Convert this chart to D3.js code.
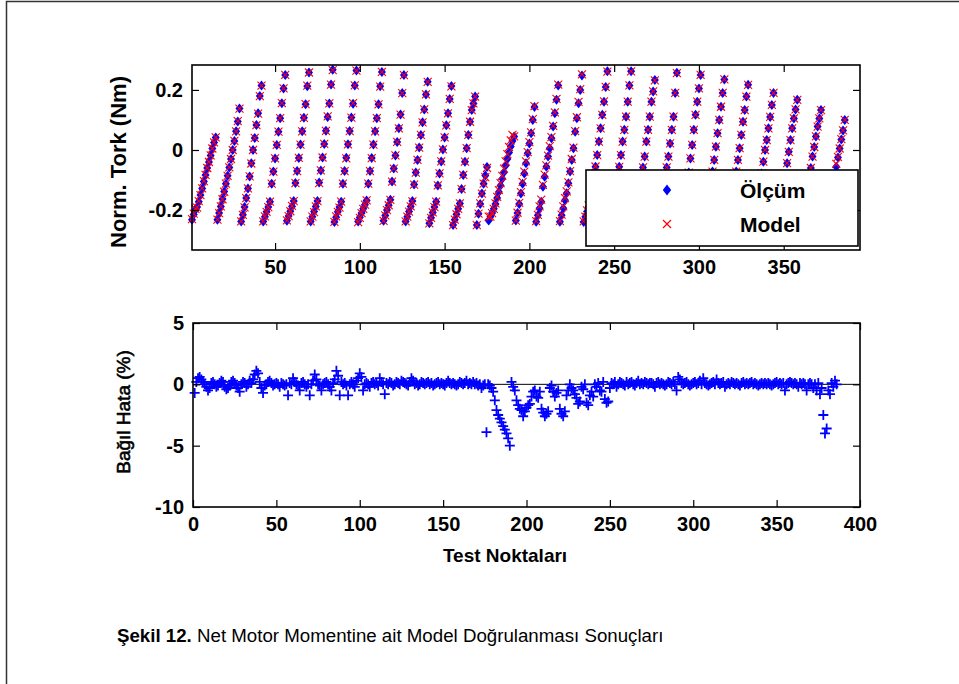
<!DOCTYPE html>
<meta charset="utf-8">
<style>
body{margin:0;background:#fff}
text{font-family:"Liberation Sans",Arial,sans-serif}
</style>
<svg id="fig" width="959" height="684"></svg>
<script src="https://d3js.org/d3.v7.min.js"></script>
<script>

// Olcum (measured) normalised torque, one array per test sweep
var olcum = [
 [-0.232,-0.215,-0.200,-0.190,-0.172,-0.150,-0.128,-0.105,-0.083,-0.060,-0.040,-0.018,0.005,0.025,0.042],
 [-0.232,-0.210,-0.188,-0.163,-0.138,-0.112,-0.086,-0.058,-0.030,0.000,0.030,0.062,0.095,0.138],
 [-0.238,-0.216,-0.190,-0.160,-0.128,-0.088,-0.044,0.000,0.040,0.083,0.122,0.180,0.215],
 [-0.238,-0.222,-0.206,-0.190,-0.172,-0.112,-0.072,-0.028,0.017,0.061,0.106,0.156,0.205,0.250],
 [-0.236,-0.220,-0.204,-0.188,-0.170,-0.110,-0.070,-0.027,0.018,0.062,0.107,0.152,0.212,0.258],
 [-0.238,-0.222,-0.205,-0.188,-0.170,-0.108,-0.068,-0.025,0.020,0.064,0.110,0.155,0.218,0.267],
 [-0.240,-0.224,-0.206,-0.190,-0.172,-0.112,-0.070,-0.026,0.019,0.063,0.108,0.154,0.215,0.265],
 [-0.238,-0.224,-0.210,-0.196,-0.182,-0.168,-0.112,-0.070,-0.027,0.018,0.062,0.106,0.152,0.212,0.260],
 [-0.236,-0.218,-0.200,-0.184,-0.166,-0.105,-0.062,-0.018,0.027,0.072,0.118,0.190,0.250],
 [-0.238,-0.222,-0.205,-0.188,-0.170,-0.115,-0.075,-0.033,0.008,0.050,0.092,0.135,0.185,0.227],
 [-0.244,-0.226,-0.208,-0.190,-0.172,-0.118,-0.078,-0.038,0.002,0.042,0.082,0.122,0.170,0.213],
 [-0.250,-0.232,-0.214,-0.196,-0.178,-0.130,-0.083,-0.039,0.006,0.050,0.094,0.133,0.155,0.178],
 [-0.250,-0.212,-0.180,-0.145,-0.112,-0.085,-0.057],
 [-0.235,-0.222,-0.210,-0.196,-0.180,-0.160,-0.140,-0.118,-0.096,-0.074,-0.052,-0.030,-0.008,0.012,0.030,0.045],
 [-0.235,-0.210,-0.180,-0.145,-0.112,-0.078,-0.044,-0.011,0.022,0.056,0.100,0.143],
 [-0.239,-0.217,-0.194,-0.172,-0.122,-0.089,-0.056,-0.022,0.006,0.039,0.078,0.122,0.167,0.215],
 [-0.239,-0.217,-0.194,-0.167,-0.144,-0.111,-0.072,-0.033,0.006,0.061,0.106,0.156,0.200,0.248],
 [-0.240,-0.222,-0.205,-0.188,-0.170,-0.140,-0.100,-0.056,-0.017,0.028,0.072,0.117,0.161,0.210,0.262],
 [-0.238,-0.222,-0.205,-0.188,-0.170,-0.100,-0.056,-0.017,0.028,0.067,0.111,0.161,0.215,0.262],
 [-0.238,-0.222,-0.205,-0.188,-0.170,-0.105,-0.058,-0.022,0.028,0.067,0.111,0.161,0.195,0.233],
 [-0.238,-0.220,-0.203,-0.186,-0.168,-0.100,-0.058,-0.022,0.022,0.067,0.111,0.190,0.257],
 [-0.238,-0.222,-0.205,-0.188,-0.170,-0.120,-0.075,-0.028,0.017,0.067,0.117,0.161,0.205,0.250],
 [-0.238,-0.222,-0.205,-0.188,-0.170,-0.115,-0.072,-0.033,0.011,0.056,0.100,0.144,0.190,0.235],
 [-0.238,-0.222,-0.205,-0.188,-0.170,-0.118,-0.072,-0.033,0.006,0.050,0.094,0.133,0.178,0.217],
 [-0.238,-0.224,-0.210,-0.196,-0.182,-0.168,-0.125,-0.078,-0.039,0.000,0.033,0.072,0.110,0.150,0.190],
 [-0.238,-0.222,-0.205,-0.188,-0.170,-0.125,-0.083,-0.044,-0.006,0.033,0.072,0.105,0.135,0.167],
 [-0.238,-0.222,-0.205,-0.188,-0.170,-0.135,-0.100,-0.060,-0.022,0.010,0.045,0.078,0.105,0.133],
 [-0.238,-0.222,-0.205,-0.188,-0.170,-0.150,-0.120,-0.088,-0.056,-0.025,0.005,0.035,0.065,0.100]
];

// Model torque, same sweeps
var model = [
 [-0.230,-0.212,-0.196,-0.192,-0.170,-0.150,-0.128,-0.104,-0.083,-0.060,-0.040,-0.018,0.005,0.025,0.042],
 [-0.232,-0.210,-0.188,-0.164,-0.139,-0.112,-0.086,-0.058,-0.030,0.000,0.030,0.062,0.096,0.138],
 [-0.238,-0.216,-0.191,-0.160,-0.128,-0.088,-0.045,0.000,0.040,0.083,0.121,0.179,0.214],
 [-0.238,-0.221,-0.206,-0.190,-0.172,-0.112,-0.072,-0.028,0.017,0.061,0.106,0.156,0.205,0.250],
 [-0.234,-0.220,-0.204,-0.186,-0.170,-0.110,-0.070,-0.026,0.018,0.062,0.107,0.153,0.214,0.258],
 [-0.238,-0.222,-0.207,-0.188,-0.170,-0.110,-0.068,-0.025,0.020,0.064,0.112,0.155,0.218,0.266],
 [-0.239,-0.221,-0.206,-0.192,-0.172,-0.112,-0.070,-0.028,0.019,0.063,0.108,0.156,0.215,0.264],
 [-0.240,-0.226,-0.210,-0.196,-0.182,-0.168,-0.112,-0.070,-0.027,0.018,0.062,0.106,0.152,0.211,0.260],
 [-0.236,-0.218,-0.200,-0.184,-0.166,-0.105,-0.062,-0.018,0.027,0.072,0.118,0.189,0.249],
 [-0.238,-0.222,-0.205,-0.188,-0.171,-0.115,-0.075,-0.033,0.008,0.050,0.092,0.135,0.185,0.227],
 [-0.244,-0.226,-0.208,-0.190,-0.172,-0.118,-0.078,-0.038,0.002,0.042,0.082,0.122,0.170,0.212],
 [-0.250,-0.232,-0.214,-0.196,-0.178,-0.130,-0.083,-0.039,0.006,0.050,0.094,0.133,0.155,0.178],
 [-0.250,-0.212,-0.178,-0.145,-0.112,-0.090,-0.060],
 [-0.222,-0.222,-0.210,-0.196,-0.178,-0.156,-0.134,-0.110,-0.086,-0.062,-0.038,-0.014,0.010,0.032,0.050,0.045],
 [-0.235,-0.209,-0.176,-0.140,-0.106,-0.072,-0.038,-0.007,0.026,0.059,0.103,0.146],
 [-0.237,-0.216,-0.188,-0.165,-0.116,-0.082,-0.051,-0.019,0.013,0.043,0.080,0.125,0.170,0.218],
 [-0.237,-0.215,-0.188,-0.160,-0.138,-0.108,-0.070,-0.030,0.008,0.063,0.109,0.160,0.203,0.252],
 [-0.238,-0.222,-0.201,-0.184,-0.168,-0.136,-0.098,-0.055,-0.017,0.028,0.072,0.117,0.162,0.210,0.261],
 [-0.236,-0.219,-0.201,-0.188,-0.170,-0.100,-0.056,-0.017,0.028,0.067,0.111,0.161,0.215,0.262],
 [-0.238,-0.222,-0.205,-0.188,-0.170,-0.105,-0.058,-0.022,0.028,0.067,0.111,0.161,0.195,0.232],
 [-0.238,-0.220,-0.203,-0.186,-0.168,-0.100,-0.058,-0.022,0.022,0.067,0.111,0.190,0.256],
 [-0.238,-0.222,-0.205,-0.188,-0.170,-0.120,-0.075,-0.028,0.017,0.067,0.117,0.161,0.205,0.250],
 [-0.238,-0.222,-0.205,-0.188,-0.170,-0.115,-0.072,-0.033,0.011,0.056,0.100,0.144,0.190,0.235],
 [-0.238,-0.222,-0.205,-0.188,-0.170,-0.118,-0.072,-0.033,0.006,0.050,0.094,0.133,0.178,0.217],
 [-0.238,-0.224,-0.210,-0.196,-0.182,-0.168,-0.125,-0.078,-0.039,0.000,0.033,0.072,0.110,0.150,0.190],
 [-0.238,-0.222,-0.205,-0.188,-0.170,-0.125,-0.083,-0.044,-0.006,0.033,0.072,0.105,0.135,0.167],
 [-0.237,-0.222,-0.205,-0.188,-0.170,-0.135,-0.100,-0.060,-0.022,0.010,0.045,0.078,0.105,0.133],
 [-0.238,-0.222,-0.205,-0.188,-0.170,-0.150,-0.114,-0.080,-0.046,-0.023,0.005,0.036,0.065,0.100]
];

// Bagil hata (%) for every test point, same sweeps
var hata = [
 [-0.7,0.2,0.5,0.6,0.4,0.2,0.0,-0.2,-0.5,-0.3,0.1,0.2,0.0,-0.2,-0.1],
 [0.1,0.3,0.2,-0.2,-0.4,-0.3,-0.1,0.2,0.3,0.1,-0.1,-0.3,-0.6,0.0],
 [0.2,0.1,-0.2,0.0,0.3,0.1,0.4,0.8,1.1,0.9,0.2,-0.3,-0.7],
 [-0.1,0.0,0.2,0.3,0.1,-0.1,0.0,0.1,0.0,-0.2,0.1,0.0,-0.1,0.0],
 [-0.9,0.1,0.0,0.5,0.2,0.0,-0.1,-0.5,0.1,0.2,0.0,-0.2,0.0,-0.9],
 [0.0,0.3,0.8,0.4,0.0,-0.1,-0.5,0.0,0.1,0.2,0.0,-0.2,-0.5,0.1],
 [0.4,1.1,0.7,-0.9,0.2,0.0,0.1,-0.1,-0.9,0.0,0.2,0.0,-0.2,0.3],
 [0.5,0.9,0.6,-0.5,0.0,0.1,0.0,-0.2,0.1,0.2,0.0,0.1,-0.1,0.5,0.2],
 [0.0,-0.8,0.1,0.0,0.2,0.1,-0.1,0.0,0.2,0.1,0.0,0.3,0.2],
 [0.1,0.0,-0.1,0.2,0.5,0.3,0.0,0.1,-0.1,0.0,0.2,0.1,0.0,0.1],
 [0.2,0.0,0.1,-0.1,0.0,0.1,0.2,0.0,0.1,0.0,-0.1,0.1,0.3,0.1],
 [0.0,0.1,0.0,-0.1,0.0,0.2,0.1,0.0,0.1,0.3,0.0,0.1,0.0,0.2],
 [0.0,0.1,-0.1,0.0,-0.3,-0.1,0.0],
 [-3.9,0.0,-0.1,-0.3,-0.6,-1.3,-2.1,-2.5,-2.8,-3.1,-3.4,-3.7,-4.0,-4.4,-5.0,0.2],
 [-0.2,-0.5,-1.3,-1.7,-2.0,-2.1,-2.6,-2.2,-1.9,-1.7,-1.6,-1.0],
 [-0.6,-0.5,-1.0,-1.1,-0.6,-2.0,-2.3,-2.6,-2.4,-2.2,-0.3,-0.1,-0.6,-1.0],
 [-0.7,-0.5,-2.0,-2.4,-2.6,-2.2,-0.9,-0.5,0.0,-0.3,-0.5,-0.8,-1.1,-1.6],
 [-1.4,-0.2,-0.4,0.0,-1.5,-1.7,-0.9,-0.6,-1.0,0.0,-0.2,0.1,-0.5,-0.6,0.2],
 [-1.2,-1.5,-1.4,-0.3,0.1,0.0,0.2,-0.2,0.0,0.2,0.1,0.0,-0.1,0.2],
 [0.0,0.1,0.2,0.0,-0.1,0.1,0.3,0.0,0.1,0.0,0.2,0.1,0.0,0.1],
 [0.1,0.0,-0.2,0.1,0.2,0.0,0.1,0.0,-0.1,0.0,0.2,0.1,0.0],
 [0.2,0.0,-0.5,0.6,0.4,0.1,0.0,0.1,0.2,0.0,-0.1,0.0,0.1,0.2],
 [0.0,0.1,0.3,0.0,0.5,0.1,0.0,-0.1,0.0,0.1,0.2,0.0,0.4,0.1],
 [0.0,0.1,0.2,-0.2,0.0,0.1,0.0,0.2,0.1,0.0,0.1,0.0,-0.1,0.1],
 [0.2,0.0,0.1,0.0,0.1,0.2,0.0,0.1,0.0,-0.1,0.0,0.1,0.0,0.1,0.0],
 [0.1,0.0,-0.1,0.0,0.1,0.2,0.0,0.1,0.0,0.1,-0.5,0.0,0.1,0.2],
 [0.1,0.0,0.1,0.0,-0.2,0.1,0.0,0.1,0.0,-0.5,0.0,0.1,0.0,-0.3],
 [0.0,-0.5,0.1,-0.8,-0.3,-2.5,-4.0,-3.6,-0.5,-0.8,0.1,-0.2,0.3,0.0]
];

var xTicksTop = [50, 100, 150, 200, 250, 300, 350];
var xTicksBot = [0, 50, 100, 150, 200, 250, 300, 350, 400];
var yTicksTop = [-0.2, 0, 0.2];
var yTicksBot = [-10, -5, 0, 5];
var seriesNames = ["Ölçüm", "Model"];

function flat(cols) {
	var out = [];
	cols.forEach(function(c) {
		c.forEach(function(v) { out.push({i: out.length + 1, v: v}); });
	});
	return out;
}

var pOlcum = flat(olcum), pModel = flat(model), pHata = flat(hata);

var svg = d3.select("#fig");

// page frame
svg.append("path").attr("d", "M6.5,690V1.5H965")
	.attr("fill", "none").attr("stroke", "#333").attr("stroke-width", 1.5);

var xTop = d3.scaleLinear().domain([1, 395]).range([192, 860]);
var yTop = d3.scaleLinear().domain([-0.333, 0.283]).range([250, 65]);
var xBot = d3.scaleLinear().domain([0, 400]).range([193, 860]);
var yBot = d3.scaleLinear().domain([-10, 5]).range([507, 323]);

function axes(x, y, xt, yt) {
	var g = svg.append("g");
	var x0 = x.range()[0], x1 = x.range()[1], y0 = y.range()[0], y1 = y.range()[1];
	g.append("g").attr("transform", "translate(0," + y0 + ")")
		.call(d3.axisBottom(x).tickValues(xt).tickSize(-7).tickPadding(10).tickFormat(d => String(d)));
	g.append("g").attr("transform", "translate(0," + y1 + ")")
		.call(d3.axisTop(x).tickValues(xt).tickSize(-7).tickFormat(""));
	g.append("g").attr("transform", "translate(" + x0 + ",0)")
		.call(d3.axisLeft(y).tickValues(yt).tickSize(-7).tickPadding(9).tickFormat(d => String(d)));
	g.append("g").attr("transform", "translate(" + x1 + ",0)")
		.call(d3.axisRight(y).tickValues(yt).tickSize(-7).tickFormat(""));
	g.selectAll(".domain").remove();
	g.selectAll(".tick line").attr("stroke", "#000").attr("stroke-width", 1.2);
	g.selectAll(".tick text").attr("fill", "#000")
		.style("font-size", "20px").style("font-weight", "bold").style("font-family", "'Liberation Sans',Arial,sans-serif");
	g.append("rect").attr("x", x0).attr("y", y1).attr("width", x1 - x0).attr("height", y0 - y1)
		.attr("fill", "none").attr("stroke", "#000").attr("stroke-width", 1.6);
	return g;
}

// ---- top panel
var gTop = svg.append("g");
gTop.selectAll(".olc").data(pOlcum).enter().append("path")
	.attr("class", "olc")
	.attr("transform", d => "translate(" + xTop(d.i) + "," + yTop(d.v) + ")")
	.attr("d", "M0,-5L4,0L0,5L-4,0Z")
	.attr("fill", "#0000ff");
gTop.selectAll(".mod").data(pModel).enter().append("path")
	.attr("class", "mod")
	.attr("transform", d => "translate(" + xTop(d.i) + "," + yTop(d.v) + ")")
	.attr("d", "M-4,-4L4,4M4,-4L-4,4")
	.attr("stroke", "#ff0000").attr("stroke-width", 1.1).attr("fill", "none");
axes(xTop, yTop, xTicksTop, yTicksTop);

svg.append("text").attr("transform", "translate(126,162) rotate(-90)")
	.attr("text-anchor", "middle").style("font-size", "22px").style("font-weight", "bold")
	.text("Norm. Tork (Nm)");

// legend
var leg = svg.append("g");
leg.append("rect").attr("x", 586).attr("y", 170).attr("width", 272).attr("height", 76)
	.attr("fill", "#fff").attr("stroke", "#000").attr("stroke-width", 1.6);
leg.append("path").attr("transform", "translate(667,190)")
	.attr("d", "M0,-5.5L4.2,0L0,5.5L-4.2,0Z").attr("fill", "#0000ff");
leg.append("path").attr("transform", "translate(667,224)")
	.attr("d", "M-4,-4L4,4M4,-4L-4,4").attr("stroke", "#ff0000").attr("stroke-width", 1.2);
leg.selectAll(".lt").data(seriesNames).enter().append("text")
	.attr("x", 740).attr("y", (d, i) => 198 + i * 34)
	.style("font-size", "21px").style("font-weight", "bold")
	.text(d => d);

// ---- bottom panel
var gBot = svg.append("g");
gBot.append("line").attr("x1", xBot(0)).attr("x2", xBot(400)).attr("y1", yBot(0)).attr("y2", yBot(0))
	.attr("stroke", "#000").attr("stroke-width", 1);
gBot.selectAll(".err").data(pHata).enter().append("path")
	.attr("class", "err")
	.attr("transform", d => "translate(" + xBot(d.i) + "," + yBot(d.v) + ")")
	.attr("d", "M-5,0H5M0,-5V5")
	.attr("stroke", "#0000ff").attr("stroke-width", 1.8);
axes(xBot, yBot, xTicksBot, yTicksBot);

svg.append("text").attr("transform", "translate(130,412) rotate(-90)")
	.attr("text-anchor", "middle").style("font-size", "19px")
	.attr("stroke", "#000").attr("stroke-width", 0.6)
	.text("Bağıl Hata (%)");
svg.append("text").attr("x", 505).attr("y", 562)
	.attr("text-anchor", "middle").style("font-size", "19px").style("font-weight", "bold")
	.text("Test Noktaları");

// caption
var cap = svg.append("text").attr("x", 117).attr("y", 642).style("font-size", "18.7px");
cap.append("tspan").style("font-weight", "bold").text("Şekil 12.");
cap.append("tspan").text(" Net Motor Momentine ait Model Doğrulanması Sonuçları");

</script>
